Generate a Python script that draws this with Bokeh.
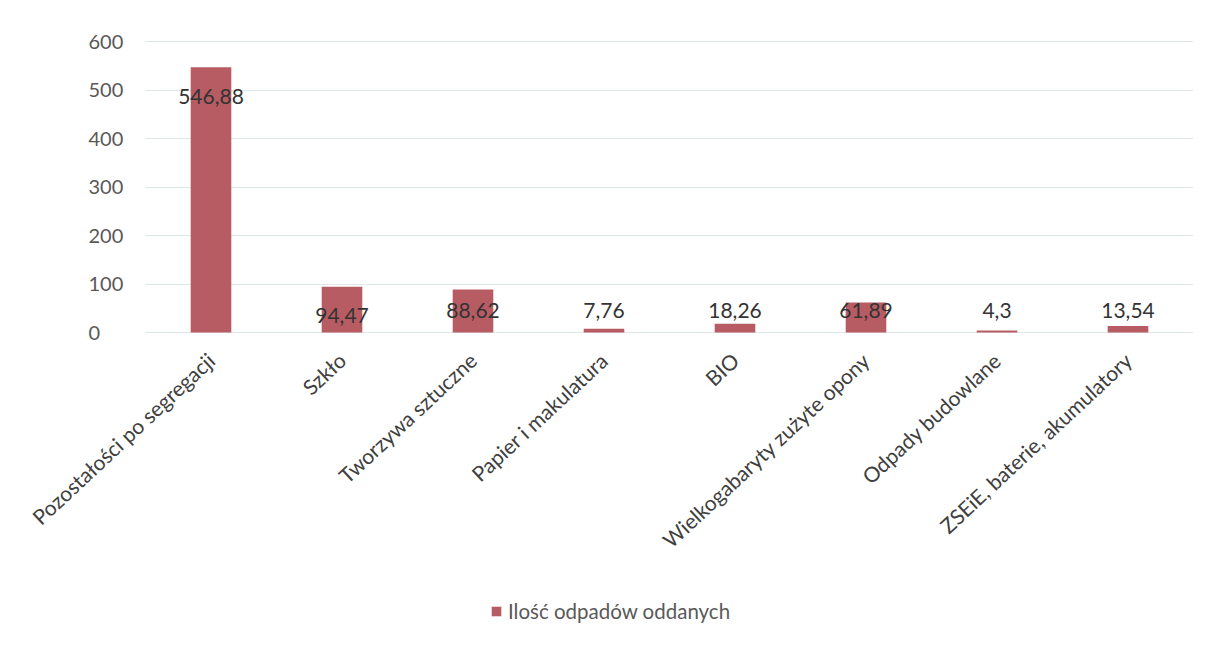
import numpy as np
from bokeh.plotting import figure
from bokeh.models import ColumnDataSource, Legend, LegendItem, FixedTicker, Range1d
from bokeh.core.properties import value
from bokeh.embed import file_html
from bokeh.resources import INLINE

categories = ["Pozostałości po segregacji", "Szkło", "Tworzywa sztuczne", "Papier i makulatura",
              "BIO", "Wielkogabaryty zużyte opony", "Odpady budowlane", "ZSEiE, baterie, akumulatory"]
values = [546.88, 94.47, 88.62, 7.76, 18.26, 61.89, 4.3, 13.54]
labels = ["546,88", "94,47", "88,62", "7,76", "18,26", "61,89", "4,3", "13,54"]
y_ticks = [0, 100, 200, 300, 400, 500, 600]
series_name = "Ilość odpadów oddanych"

BAR = "#b85c64"
FONT = "Lato"

# layout constants (pixels)
CAT_PX = 131          # width of one category slot
LEFT_PAD_PX = 125     # room left of first slot for the rotated label
AXIS_PX = 291         # height of the 0..600 value span
TOP_PX = 12           # room above 600 so its label is not clipped
FRAME_PX = 612        # frame extends below to hold labels + legend

n = len(categories)
xpos = np.arange(n)
pad = LEFT_PAD_PX / CAT_PX
y_max = y_ticks[-1]
scale = AXIS_PX / y_max
y_top = y_max + TOP_PX / scale
y_min = y_top - FRAME_PX / scale

vals = np.array(values)
tall = vals >= 90
src = ColumnDataSource(dict(
    x=xpos.tolist(), val=values, lab=labels,
    ly=np.where(tall, vals, 0.0).tolist(),
    loff=np.where(tall, 29, -22).tolist(),
))

p = figure(x_range=Range1d(-0.5 - pad, n - 0.5), y_range=Range1d(y_min, y_top),
           frame_width=int(round((n + pad) * CAT_PX)), frame_height=FRAME_PX,
           y_axis_location="right",
           min_border_left=20, min_border_top=41 - TOP_PX, min_border_right=0, min_border_bottom=0,
           output_backend="svg", toolbar_location=None)
p.outline_line_color = None
p.background_fill_color = "white"

r = p.vbar(x="x", top="val", width=0.31, source=src, fill_color=BAR, line_color=None)
p.text(x="x", y="ly", text="lab", source=src, y_offset="loff",
       text_align="center", text_baseline="middle",
       text_font=value(FONT), text_font_size="21px", text_color="#333333")

# value axis drawn at the left edge of the first category slot
p.yaxis.ticker = FixedTicker(ticks=y_ticks)
p.yaxis.fixed_location = -0.5
p.yaxis.axis_line_color = None
p.yaxis.major_tick_line_color = None
p.yaxis.minor_tick_line_color = None
p.yaxis.major_tick_out = 0
p.yaxis.major_label_text_font = FONT
p.yaxis.major_label_text_font_size = "20px"
p.yaxis.major_label_text_color = "#595959"
p.yaxis.major_label_standoff = -57

# category axis at value 0
p.xaxis.ticker = FixedTicker(ticks=xpos.tolist())
p.xaxis.major_label_overrides = {int(i): c for i, c in zip(xpos, categories)}
p.xaxis.fixed_location = 0
p.xaxis.axis_line_color = None
p.xaxis.major_tick_line_color = None
p.xaxis.minor_tick_line_color = None
p.xaxis.major_label_orientation = 0.75
p.xaxis.major_label_text_font = FONT
p.xaxis.major_label_text_font_size = "21px"
p.xaxis.major_label_text_color = "#404040"
p.xaxis.major_label_standoff = 18

p.xgrid.grid_line_color = None
p.ygrid.ticker = FixedTicker(ticks=y_ticks)
p.ygrid.grid_line_color = "#dfe6e8"
p.ygrid.grid_line_width = 1
try:
    p.ygrid.cross_bounds = (-0.5, n - 0.5)
except Exception:
    pass

legend = Legend(items=[LegendItem(label=series_name, renderers=[r])],
                orientation="horizontal", border_line_color=None, background_fill_alpha=0,
                label_text_font=FONT, label_text_font_size="20.5px", label_text_color="#595959",
                glyph_width=12, glyph_height=12, label_standoff=6, padding=0, margin=0,
                location=(470, 18))
p.add_layout(legend, "center")

open("out.html", "w").write(file_html(p, INLINE))
